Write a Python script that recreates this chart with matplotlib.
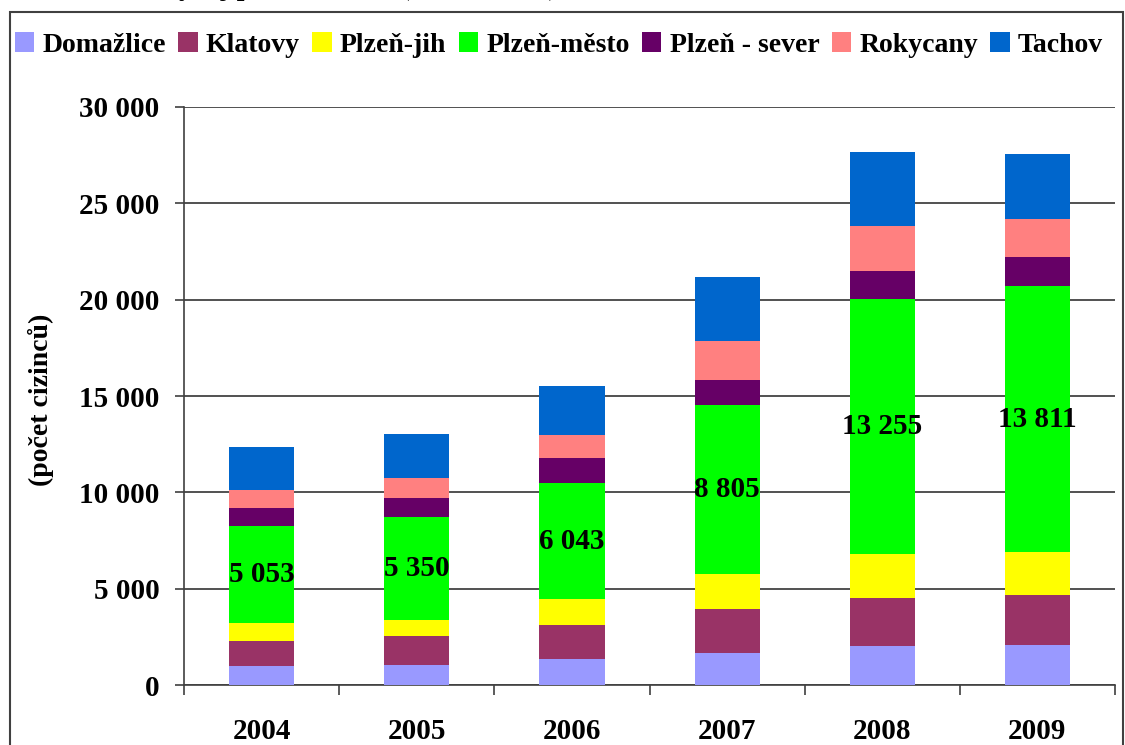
import matplotlib
matplotlib.use('Agg')
import matplotlib.pyplot as plt
from matplotlib.patches import Rectangle

plt.rcParams['font.family'] = ['Liberation Serif', 'DejaVu Serif']
plt.rcParams['font.weight'] = 'bold'

# Data
years = ['2004', '2005', '2006', '2007', '2008', '2009']
domazlice = [980, 1030, 1340, 1640, 2000, 2100]
klatovy = [1330, 1490, 1760, 2280, 2540, 2560]
plzen_jih = [890, 870, 1350, 1820, 2240, 2230]
plzen_mesto = [5053, 5350, 6043, 8805, 13255, 13811]
plzen_sever = [950, 970, 1270, 1300, 1440, 1500]
rokycany = [920, 1030, 1200, 2000, 2340, 1970]
tachov = [2210, 2310, 2540, 3340, 3860, 3400]

series_names = ['Domažlice', 'Klatovy', 'Plzeň-jih', 'Plzeň-město',
                'Plzeň - sever', 'Rokycany', 'Tachov']
series = [domazlice, klatovy, plzen_jih, plzen_mesto, plzen_sever, rokycany, tachov]
colors = ['#9999FF', '#993366', '#FFFF00', '#00FF00', '#660066', '#FF8080', '#0066CC']
y_ticks = [0, 5000, 10000, 15000, 20000, 25000, 30000]

fig = plt.figure(figsize=(11.25, 7.45), dpi=100)
ax = fig.add_axes([0.1636, 0.0805, 0.8275, 0.7759])

x = list(range(len(years)))
bottom = [0] * len(years)
bars_mesto = None
for name, vals, col in zip(series_names, series, colors):
    b = ax.bar(x, vals, width=0.42, bottom=bottom, color=col, label=name, zorder=3)
    if name == 'Plzeň-město':
        bars_mesto = b
    bottom = [a + v for a, v in zip(bottom, vals)]

# value labels on Plzeň-město segment
ax.bar_label(bars_mesto, labels=[f"{v:,}".replace(',', ' ') for v in plzen_mesto],
             label_type='center', fontsize=21, fontweight='bold', zorder=4)

ax.set_xlim(-0.5, len(years) - 0.5)
ax.set_ylim(0, 30000)
ax.set_yticks(y_ticks)
ax.set_yticklabels([f"{v:,}".replace(',', ' ') for v in y_ticks], fontsize=21, fontweight='bold')
ax.set_xticks(x)
ax.set_xticklabels(years, fontsize=21, fontweight='bold')
ax.set_xticks([i - 0.5 for i in range(len(years) + 1)], minor=True)
ax.tick_params(axis='x', which='major', length=0, pad=24)
ax.tick_params(axis='x', which='minor', length=7.5, width=1.2, color='#404040', direction='out')
ax.tick_params(axis='y', length=6.5, width=1.2, color='#404040', pad=11)

ax.grid(axis='y', color='#333333', linewidth=1.2, zorder=0)
for s in ['top', 'right']:
    ax.spines[s].set_visible(False)
for s in ['left', 'bottom']:
    ax.spines[s].set_color('#404040')
    ax.spines[s].set_linewidth(1.2)

fig.text(0.036, 0.463, '(počet cizinců)', rotation=90, fontsize=20, fontweight='bold',
         ha='center', va='center')

# title is clipped at the top edge in the original, only descenders show
fig.text(0.141, 1 + 5 / 745, 'Vývoj počtu cizinců (2004 – 2009)', fontsize=20,
         fontweight='bold', ha='left', va='baseline')

fig.legend(loc='center left', bbox_to_anchor=(0.013, 1 - 45 / 745), ncol=7, frameon=False,
           prop={'size': 20, 'weight': 'bold'}, handlelength=0.7, handleheight=0.7,
           handletextpad=0.3, columnspacing=0.44, borderpad=0, borderaxespad=0)

# outer frame around the chart area
fig.patches.append(Rectangle((0.0089, -0.05), 0.9893, 1.0339, transform=fig.transFigure,
                             fill=False, edgecolor='#404040', linewidth=1.5))

fig.savefig('out.png', dpi=100)
